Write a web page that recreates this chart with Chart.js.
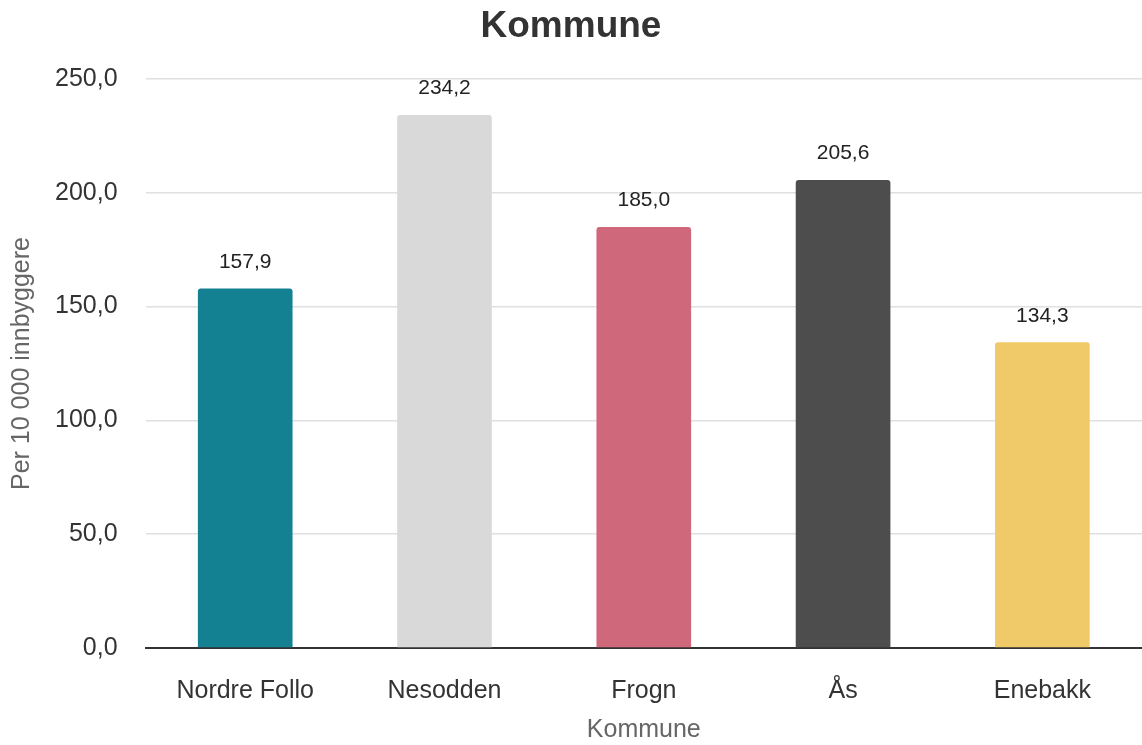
<!DOCTYPE html>
<html>
<head>
<meta charset="utf-8">
<script src="https://cdn.jsdelivr.net/npm/chart.js@4/dist/chart.umd.min.js"></script>
<style>
  html, body { margin: 0; padding: 0; background: #fff; }
  .wrap { width: 1142px; height: 745px; }
</style>
</head>
<body>
<div class="wrap"><canvas id="chart" width="1142" height="745"></canvas></div>
<script>
const categories = ['Nordre Follo', 'Nesodden', 'Frogn', 'Ås', 'Enebakk'];
const values = [157.9, 234.2, 185.0, 205.6, 134.3];
const barColors = ['#148193', '#d9d9d9', '#cf687a', '#4d4d4d', '#f0ca69'];
const yTicks = [0, 50, 100, 150, 200, 250];
const chartTitle = 'Kommune';
const xTitle = 'Kommune';
const yTitle = 'Per 10 000 innbyggere';

const FONT = '"Liberation Sans", Arial, sans-serif';
const fmt = v => v.toFixed(1).replace('.', ',');

// title, value labels above bars, axis titles
const extras = {
  id: 'extras',
  afterDatasetsDraw(chart) {
    const ctx = chart.ctx;
    const area = chart.chartArea;
    const meta = chart.getDatasetMeta(0);
    ctx.save();
    ctx.textAlign = 'center';

    ctx.font = 'bold 37px ' + FONT;
    ctx.fillStyle = '#333';
    ctx.textBaseline = 'middle';
    ctx.fillText(chartTitle, chart.width / 2, 27);

    ctx.font = '21px ' + FONT;
    ctx.fillStyle = '#222';
    ctx.textBaseline = 'bottom';
    meta.data.forEach((bar, i) => {
      ctx.fillText(fmt(values[i]), bar.x, bar.y - 16);
    });

    ctx.font = '25px ' + FONT;
    ctx.fillStyle = '#666';
    ctx.textBaseline = 'middle';
    ctx.fillText(xTitle, (area.left + area.right) / 2, 730);
    ctx.translate(22, (area.top + area.bottom) / 2);
    ctx.rotate(-Math.PI / 2);
    ctx.fillText(yTitle, 0, 0);
    ctx.restore();
  }
};

new Chart(document.getElementById('chart'), {
  type: 'bar',
  data: {
    labels: categories,
    datasets: [{
      data: values,
      backgroundColor: barColors,
      borderRadius: { topLeft: 3, topRight: 3 },
      borderSkipped: 'bottom',
      barPercentage: 0.95,
      categoryPercentage: 0.5
    }]
  },
  options: {
    responsive: false,
    animation: false,
    layout: { padding: { top: 79, right: 0, bottom: 11, left: 27 } },
    plugins: {
      legend: { display: false },
      tooltip: { enabled: false },
      title: { display: false }
    },
    scales: {
      x: {
        grid: { display: false, drawTicks: false },
        border: { color: '#333', width: 2 },
        ticks: {
          color: '#333',
          padding: 28,
          font: { family: FONT, size: 25 }
        }
      },
      y: {
        min: 0,
        max: 250,
        afterBuildTicks: axis => { axis.ticks = yTicks.map(v => ({ value: v })); },
        grid: { color: '#e0e0e0', lineWidth: 1.5, drawTicks: false },
        border: { display: false },
        ticks: {
          color: '#333',
          padding: 28,
          callback: v => fmt(v),
          font: { family: FONT, size: 25 }
        }
      }
    }
  },
  plugins: [extras]
});
</script>
</body>
</html>
